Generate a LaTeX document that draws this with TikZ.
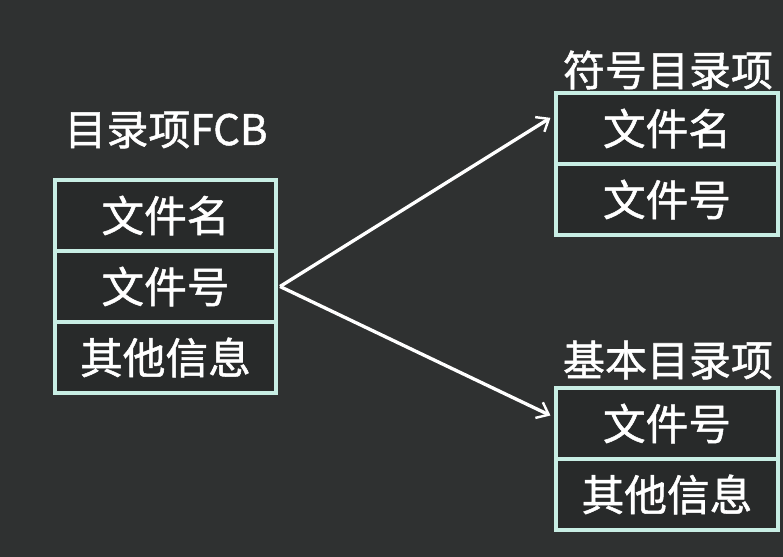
\documentclass[tikz,border=0pt]{standalone}
\usepackage{fontspec}
\setmainfont{Noto Sans CJK SC}[FakeBold=1.2]
\usetikzlibrary{arrows.meta}

\definecolor{board}{RGB}{47,49,49}
\definecolor{cellbg}{RGB}{40,42,42}
\definecolor{edge}{RGB}{200,238,228}

\tikzset{every picture/.style={line width=0.75pt}}
\tikzset{
  cell/.style={draw=edge, fill=cellbg, line width=2.8, minimum width=166pt, minimum height=53.25pt, inner sep=0pt, text=white, font=\fontsize{32}{32}\selectfont},
  title/.style={text=white, inner sep=0pt, font=\fontsize{31.5}{31.5}\selectfont},
  link/.style={draw=white, line width=2.5, -{Straight Barb[length=8pt,width=13pt,line width=1.8pt]}}
}

\begin{document}
\begin{tikzpicture}[x=0.75pt,y=0.75pt,yscale=-1,xscale=1]
%background
\path [fill=board] (0,0) rectangle (783,557);

% Text Node
\node [title] (fcbTitle) at (166,130) {目录项FCB};
% Text Node
\node [title] (symTitle) at (668,70) {符号目录项};
% Text Node
\node [title] (basTitle) at (668,360) {基本目录项};

%left box
\node [cell] (fcbName) at (165.5,215.5) {文件名};
\node [cell] (fcbNo) at (165.5,286.5) {文件号};
\node [cell] (fcbInfo) at (165.5,357.5) {其他信息};

%symbolic entry
\node [cell] (symName) at (667,128.5) {文件名};
\node [cell] (symNo) at (667,199.5) {文件号};

%basic entry
\node [cell] (basNo) at (667,423.5) {文件号};
\node [cell] (basInfo) at (667,494.5) {其他信息};

%Straight Lines
\draw [link] ([xshift=1.5pt]fcbNo.east) -- ([xshift=-3pt,yshift=-8pt]symName.west);
\draw [link] ([xshift=1.5pt]fcbNo.east) -- ([xshift=-3pt,yshift=-6pt]basNo.west);

\end{tikzpicture}
\end{document}
